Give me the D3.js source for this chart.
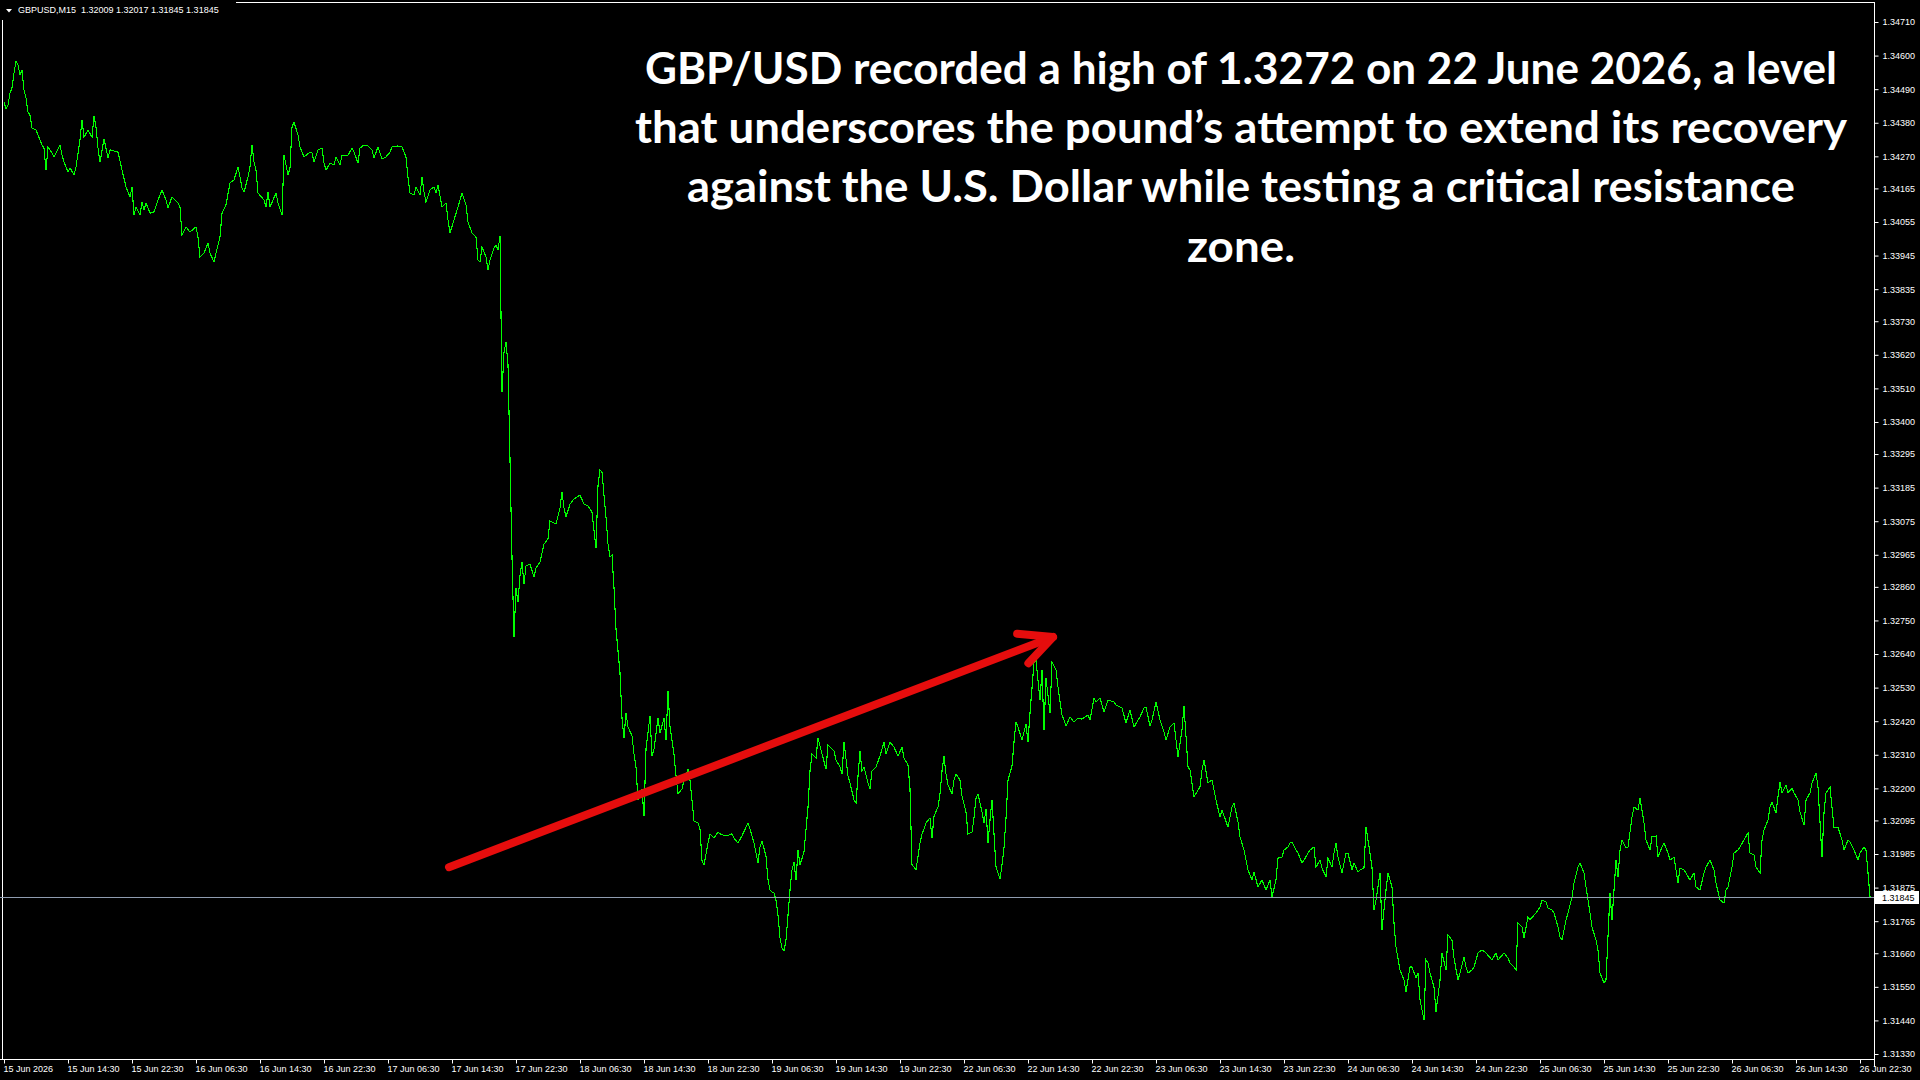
<!DOCTYPE html>
<html>
<head>
<meta charset="utf-8">
<script src="https://cdn.jsdelivr.net/npm/d3@7"></script>
<style>
  html, body { margin: 0; padding: 0; background: #000; overflow: hidden; }
  svg { display: block; }
</style>
</head>
<body>
<script>
// header of the chart window
var symbolName = "GBPUSD,M15";
var lastBarOHLC = ["1.32009", "1.32017", "1.31845", "1.31845"];
var lastPrice = 1.31845;

// M15 closes (bar 0 = 15 Jun 06:30)
var barIndex = [
  0,1,2,3,4,5,6,7,8,9,10,11,12,13,14,16,18,19,20,21,22,24,25,28,29,30,32,33,35,36,38,39,40,42,44,45,46,47,48,50,
  52,53,57,59,61,63,64,65,66,68,69,70,71,73,75,77,79,81,82,84,87,88,89,91,93,96,97,98,100,102,103,105,106,108,109,111,
  113,115,117,118,119,120,122,123,124,125,126,127,130,131,132,133,136,137,139,140,142,143,144,145,147,148,150,153,154,155,
  157,159,160,161,163,165,166,168,169,172,174,175,177,178,180,182,184,185,187,189,191,193,194,197,199,201,202,203,205,206,
  208,209,210,211,213,215,216,217,219,221,222,223,225,227,229,231,232,234,236,237,238,239,241,242,243,245,246,247,248,249,
  250,251,252,253,254,255,256,257,258,259,260,261,263,265,266,268,270,272,273,276,278,279,280,281,283,285,288,290,292,294,
  295,296,297,298,299,300,301,302,303,304,305,306,308,309,310,311,312,314,315,316,317,319,320,321,323,324,325,327,328,330,
  331,332,333,335,336,337,339,340,342,343,345,347,348,349,350,352,353,355,357,358,361,364,365,367,369,371,372,373,375,377,
  378,379,381,382,383,384,385,386,387,388,389,390,391,392,393,394,395,396,397,398,400,402,403,404,406,407,409,411,412,415,
  416,418,419,420,422,423,425,426,427,428,429,430,432,433,434,436,438,440,441,443,445,447,449,450,452,453,454,455,456,458,
  459,460,461,463,464,465,467,468,469,470,471,472,474,475,476,478,479,481,482,484,485,486,487,489,490,491,492,493,494,495,
  496,498,499,500,501,502,504,505,506,507,509,511,512,513,514,515,516,518,519,520,521,523,524,526,527,529,530,531,533,535,
  537,539,542,543,545,546,548,550,552,555,556,559,561,563,565,568,570,571,573,574,576,578,580,581,583,585,587,589,590,592,
  593,595,598,599,600,602,604,606,608,609,612,614,615,617,618,620,621,622,624,625,627,629,631,633,634,636,637,639,640,642,
  643,644,646,647,649,650,652,653,655,656,658,659,661,662,664,665,666,667,669,671,672,674,675,677,678,680,681,683,684,685,
  686,688,689,691,692,694,695,696,698,700,701,703,704,706,707,708,710,711,712,713,715,716,718,719,721,722,724,725,727,728,
  730,731,732,734,735,737,739,741,744,746,747,750,752,753,755,756,757,759,760,762,763,765,766,768,769,771,772,774,775,777,
  778,779,781,782,784,785,787,788,790,791,793,794,796,797,798,800,801,803,804,806,807,808,809,811,812,814,815,817,818,820,
  821,823,824,826,827,829,830,832,833,835,837,838,840,843,845,846,848,850,851,853,855,856,858,860,861,862,864,865,867,868,
  870,872,873,875,876,878,879,880,882,883,884,886,887,888,889,891,892,894,895,897,898,900,901,903,904,906,907,909,910,911,
  913,914,915,917,919,920,922,923,925,927,928,930,931,932,933
];
var closePrice = [
  1.34448,1.34425,1.34438,1.34477,1.34494,1.34543,1.34582,1.34569,1.34536,1.34553,1.34487,1.34461,1.34415,1.34405,1.34363,1.34356,1.34324,1.34307,1.34297,1.34225,
  1.34301,1.34281,1.34268,1.34307,1.34274,1.34251,1.34219,1.34232,1.34209,1.34235,1.34324,1.34389,1.34333,1.34356,1.34333,1.34402,1.34366,1.34297,1.34251,1.34327,
  1.34265,1.34291,1.34284,1.34225,1.34170,1.34137,1.34170,1.34078,1.34104,1.34078,1.34120,1.34094,1.34117,1.34084,1.34088,1.34127,1.34160,1.34127,1.34101,1.34137,
  1.34117,1.34104,1.34012,1.34039,1.34022,1.34039,1.34006,1.33940,1.33953,1.33986,1.33953,1.33924,1.33953,1.34006,1.34084,1.34111,1.34183,1.34193,1.34235,1.34202,
  1.34166,1.34153,1.34202,1.34235,1.34307,1.34251,1.34225,1.34150,1.34127,1.34104,1.34153,1.34104,1.34150,1.34117,1.34078,1.34274,1.34209,1.34232,1.34366,1.34382,
  1.34340,1.34301,1.34268,1.34284,1.34281,1.34251,1.34291,1.34297,1.34248,1.34225,1.34248,1.34242,1.34268,1.34242,1.34274,1.34274,1.34297,1.34284,1.34248,1.34297,
  1.34307,1.34304,1.34291,1.34265,1.34301,1.34261,1.34268,1.34284,1.34301,1.34304,1.34301,1.34268,1.34202,1.34150,1.34143,1.34170,1.34143,1.34202,1.34153,1.34120,
  1.34160,1.34170,1.34150,1.34176,1.34104,1.34117,1.34062,1.34019,1.34062,1.34104,1.34150,1.34111,1.34055,1.34019,1.34006,1.33930,1.33924,1.33973,1.33940,1.33898,
  1.33930,1.33970,1.33980,1.33963,1.34009,1.33498,1.33629,1.33662,1.33587,1.33279,1.32958,1.32696,1.32856,1.32810,1.32899,1.32941,1.32869,1.32928,1.32935,1.32892,
  1.32922,1.32941,1.33000,1.33017,1.33076,1.33066,1.33118,1.33171,1.33118,1.33089,1.33131,1.33148,1.33161,1.33131,1.33125,1.33105,1.33046,1.32987,1.33190,1.33243,
  1.33236,1.33161,1.33089,1.33000,1.32958,1.32964,1.32856,1.32722,1.32578,1.32430,1.32365,1.32447,1.32401,1.32372,1.32313,1.32270,1.32162,1.32198,1.32109,1.32329,
  1.32437,1.32306,1.32329,1.32430,1.32381,1.32430,1.32358,1.32519,1.32401,1.32313,1.32241,1.32182,1.32198,1.32227,1.32263,1.32227,1.32093,1.32087,1.32067,1.31962,
  1.31949,1.32021,1.32051,1.32037,1.32057,1.32051,1.32044,1.32051,1.32037,1.32021,1.32044,1.32073,1.32087,1.32067,1.32021,1.31956,1.32008,1.32028,1.31978,1.31900,
  1.31867,1.31861,1.31857,1.31834,1.31785,1.31710,1.31677,1.31667,1.31703,1.31785,1.31867,1.31933,1.31959,1.31900,1.31998,1.31949,1.31992,1.32139,1.32257,1.32313,
  1.32299,1.32365,1.32313,1.32263,1.32342,1.32322,1.32293,1.32270,1.32247,1.32352,1.32241,1.32218,1.32162,1.32152,1.32241,1.32322,1.32257,1.32270,1.32218,1.32198,
  1.32257,1.32270,1.32306,1.32352,1.32313,1.32352,1.32335,1.32306,1.32335,1.32299,1.32277,1.32198,1.31949,1.31942,1.31933,1.32021,1.32051,1.32067,1.32087,1.32103,
  1.32037,1.32109,1.32139,1.32182,1.32257,1.32306,1.32247,1.32211,1.32182,1.32227,1.32247,1.32227,1.32175,1.32123,1.32051,1.32057,1.32103,1.32168,1.32182,1.32123,
  1.32087,1.32132,1.32021,1.32096,1.32162,1.32051,1.31942,1.31903,1.31949,1.32005,1.32103,1.32227,1.32273,1.32352,1.32417,1.32401,1.32358,1.32411,1.32352,1.32447,
  1.32529,1.32611,1.32620,1.32489,1.32588,1.32391,1.32561,1.32447,1.32614,1.32588,1.32532,1.32440,1.32424,1.32404,1.32434,1.32417,1.32430,1.32427,1.32440,1.32424,
  1.32496,1.32483,1.32496,1.32450,1.32489,1.32483,1.32473,1.32463,1.32414,1.32457,1.32401,1.32434,1.32463,1.32466,1.32404,1.32424,1.32483,1.32424,1.32385,1.32358,
  1.32401,1.32414,1.32303,1.32391,1.32470,1.32270,1.32260,1.32172,1.32205,1.32260,1.32293,1.32218,1.32227,1.32162,1.32106,1.32129,1.32073,1.32139,1.32152,1.32090,
  1.32041,1.31998,1.31965,1.31933,1.31900,1.31926,1.31877,1.31900,1.31867,1.31900,1.31844,1.31900,1.31972,1.31975,1.31998,1.32008,1.32021,1.32024,1.31998,1.31988,
  1.31956,1.31965,1.31988,1.31998,1.32008,1.31942,1.31965,1.31939,1.31910,1.31972,1.31942,1.31988,1.32021,1.31975,1.31923,1.31988,1.31988,1.31933,1.31956,1.31926,
  1.31933,1.31939,1.32073,1.31988,1.31942,1.31802,1.31834,1.31923,1.31736,1.31867,1.31923,1.31877,1.31759,1.31680,1.31605,1.31572,1.31533,1.31615,1.31615,1.31579,
  1.31595,1.31507,1.31441,1.31638,1.31628,1.31595,1.31549,1.31468,1.31572,1.31661,1.31605,1.31720,1.31703,1.31644,1.31572,1.31595,1.31648,1.31615,1.31595,1.31605,
  1.31615,1.31661,1.31671,1.31661,1.31638,1.31661,1.31638,1.31661,1.31644,1.31628,1.31615,1.31605,1.31759,1.31746,1.31710,1.31779,1.31769,1.31785,1.31792,1.31811,
  1.31834,1.31828,1.31808,1.31802,1.31792,1.31746,1.31713,1.31703,1.31769,1.31792,1.31844,1.31890,1.31942,1.31956,1.31923,1.31877,1.31792,1.31746,1.31703,1.31671,
  1.31595,1.31563,1.31572,1.31857,1.31769,1.31965,1.31910,1.31998,1.32031,1.32005,1.32008,1.32106,1.32139,1.32129,1.32168,1.32087,1.32031,1.31998,1.32041,1.32044,
  1.31975,1.32008,1.32021,1.31988,1.31965,1.31975,1.31890,1.31939,1.31933,1.31900,1.31923,1.31877,1.31867,1.31923,1.31942,1.31965,1.31933,1.31890,1.31834,1.31825,
  1.31867,1.31877,1.31942,1.31988,1.31998,1.32008,1.32031,1.32054,1.31988,1.31982,1.31942,1.31923,1.32031,1.32064,1.32096,1.32139,1.32155,1.32119,1.32172,1.32221,
  1.32185,1.32211,1.32185,1.32201,1.32185,1.32162,1.32123,1.32080,1.32162,1.32185,1.32218,1.32250,1.32205,1.31975,1.32119,1.32185,1.32205,1.32139,1.32073,1.32073,
  1.32031,1.31998,1.32031,1.32024,1.31998,1.31965,1.31988,1.32008,1.31998,1.31923,1.31845
];

// price scale labels
var priceTicks = [1.34710,1.34600,1.34490,1.34380,1.34270,1.34165,1.34055,1.33945,1.33835,1.33730,1.33620,1.33510,1.33400,1.33295,1.33185,1.33075,
  1.32965,1.32860,1.32750,1.32640,1.32530,1.32420,1.32310,1.32200,1.32095,1.31985,1.31875,1.31765,1.31660,1.31550,1.31440,1.31330];

// time scale labels, one every 32 bars (8 hours)
var timeLabels = ["15 Jun 2026","15 Jun 14:30","15 Jun 22:30","16 Jun 06:30","16 Jun 14:30","16 Jun 22:30","17 Jun 06:30","17 Jun 14:30",
  "17 Jun 22:30","18 Jun 06:30","18 Jun 14:30","18 Jun 22:30","19 Jun 06:30","19 Jun 14:30","19 Jun 22:30","22 Jun 06:30","22 Jun 14:30",
  "22 Jun 22:30","23 Jun 06:30","23 Jun 14:30","23 Jun 22:30","24 Jun 06:30","24 Jun 14:30","24 Jun 22:30","25 Jun 06:30","25 Jun 14:30",
  "25 Jun 22:30","26 Jun 06:30","26 Jun 14:30","26 Jun 22:30"];
var barsPerLabel = 32;

// annotation
var titleLines = [
  "GBP/USD recorded a high of 1.3272 on 22 June 2026, a level",
  "that underscores the pound\u2019s attempt to extend its recovery",
  "against the U.S. Dollar while testing a critical resistance",
  "zone."
];
var titleWidths = [1192, 1212, 1108, 108];   // measured width of each line in the picture
var arrowTail = [222.5, 1.31942];   // [bar, price]
var arrowHead = [524.5, 1.32696];

var width = 1920, height = 1080;
var plotRight = 1874, plotBottom = 1059;

var svg = d3.select("body")
    .append("svg")
    .attr("width", width)
    .attr("height", height)
    .style("background", "#000");

var xScale = d3.scaleLinear()
    .domain([0, 935])
    .range([4, plotRight]);

var yScale = d3.scaleLinear()
    .domain([1.31330, 1.34710])
    .range([1054, 22]);

// frame
svg.append("line").attr("x1", 2.5).attr("x2", 2.5).attr("y1", 20).attr("y2", plotBottom)
  .attr("stroke", "#fff");
svg.append("line").attr("x1", 236).attr("x2", plotRight).attr("y1", 2.5).attr("y2", 2.5)
  .attr("stroke", "#fff");
svg.append("line").attr("x1", plotRight + 0.5).attr("x2", plotRight + 0.5).attr("y1", 2).attr("y2", plotBottom + 8)
  .attr("stroke", "#fff");
svg.append("line").attr("x1", 0).attr("x2", plotRight).attr("y1", plotBottom + 0.5).attr("y2", plotBottom + 0.5)
  .attr("stroke", "#fff");

// price axis
var yAxis = d3.axisRight(yScale)
    .tickValues(priceTicks)
    .tickSize(4)
    .tickPadding(4)
    .tickFormat(d3.format(".5f"));

var ya = svg.append("g")
    .attr("transform", "translate(" + (plotRight + 0.5) + ",0)")
    .call(yAxis);
ya.select(".domain").remove();
ya.selectAll("line").attr("stroke", "#fff");
ya.selectAll("text").attr("fill", "#fff")
  .attr("font-family", "Liberation Sans, Arial, sans-serif").attr("font-size", 9);

// time axis
var xAxis = d3.axisBottom(xScale)
    .tickValues(timeLabels.map(function(d, i){ return i * barsPerLabel; }))
    .tickSize(4)
    .tickFormat(function(d, i){ return timeLabels[i]; });

var xa = svg.append("g")
    .attr("transform", "translate(0," + (plotBottom + 0.5) + ")")
    .call(xAxis);
xa.select(".domain").remove();
xa.selectAll("line").attr("stroke", "#fff");
xa.selectAll("text").attr("fill", "#fff")
  .attr("text-anchor", "start")
  .attr("x", -1)
  .attr("y", 6)
  .attr("font-family", "Liberation Sans, Arial, sans-serif").attr("font-size", 9);

// close line
var line = d3.line()
    .x(function(d){ return xScale(d[0]); })
    .y(function(d){ return yScale(d[1]); });

svg.append("path")
  .datum(barIndex.map(function(b, i){ return [b, closePrice[i]]; }))
  .attr("d", line)
  .attr("fill", "none")
  .attr("stroke", "#00ff00")
  .attr("stroke-width", 1.1)
  .attr("shape-rendering", "crispEdges");

// bid line and its label
var yLast = Math.round(yScale(lastPrice)) + 0.5;
svg.append("line")
  .attr("x1", 0).attr("x2", plotRight)
  .attr("y1", yLast).attr("y2", yLast)
  .attr("stroke", "#8f9cb0");
svg.append("rect")
  .attr("x", plotRight + 1).attr("y", yLast - 6.5)
  .attr("width", 44).attr("height", 13)
  .attr("fill", "#fff");
svg.append("text")
  .attr("x", plotRight + 8).attr("y", yLast + 3.5)
  .attr("font-family", "Liberation Sans, Arial, sans-serif").attr("font-size", 9)
  .attr("fill", "#000")
  .text(d3.format(".5f")(lastPrice));

// header
svg.append("path").attr("d", "M6,9 L12,9 L9,12.5 Z").attr("fill", "#fff");
svg.append("text")
  .attr("x", 18).attr("y", 13)
  .attr("font-family", "Liberation Sans, Arial, sans-serif").attr("font-size", 9)
  .attr("fill", "#fff")
  .attr("xml:space", "preserve")
  .style("white-space", "pre")
  .text(symbolName + "  " + lastBarOHLC.join(" "));

// arrow
var ax1 = xScale(arrowTail[0]), ay1 = yScale(arrowTail[1]);
var ax2 = xScale(arrowHead[0]), ay2 = yScale(arrowHead[1]);
var ang = Math.atan2(ay1 - ay2, ax1 - ax2);
var arm = 36, spread = 26 * Math.PI / 180;
var arrow = svg.append("g")
  .attr("stroke", "#e60d0d").attr("stroke-width", 8)
  .attr("stroke-linecap", "round").attr("fill", "none");
arrow.append("line").attr("x1", ax1).attr("y1", ay1).attr("x2", ax2).attr("y2", ay2);
arrow.append("path")
  .attr("stroke-linejoin", "round")
  .attr("d", "M" + (ax2 + arm * Math.cos(ang - spread)) + "," + (ay2 + arm * Math.sin(ang - spread)) +
    " L" + ax2 + "," + ay2 +
    " L" + (ax2 + arm * Math.cos(ang + spread)) + "," + (ay2 + arm * Math.sin(ang + spread)));

// title
var title = svg.append("g")
  .attr("font-family", "Lato, 'Open Sans', sans-serif")
  .attr("font-weight", "bold")
  .attr("fill", "#fff")
  .attr("font-size", 44);
titleLines.forEach(function(t, i){
  title.append("text")
    .attr("x", 1241)
    .attr("y", 84 + i * 59.2)
    .attr("text-anchor", "middle")
    .text(t);
});
var w1 = title.select("text").node().getComputedTextLength();
title.attr("font-size", 44 * titleWidths[0] / w1);
title.selectAll("text")
  .attr("textLength", function(d, i){ return titleWidths[i]; })
  .attr("lengthAdjust", "spacingAndGlyphs");
</script>
</body>
</html>
